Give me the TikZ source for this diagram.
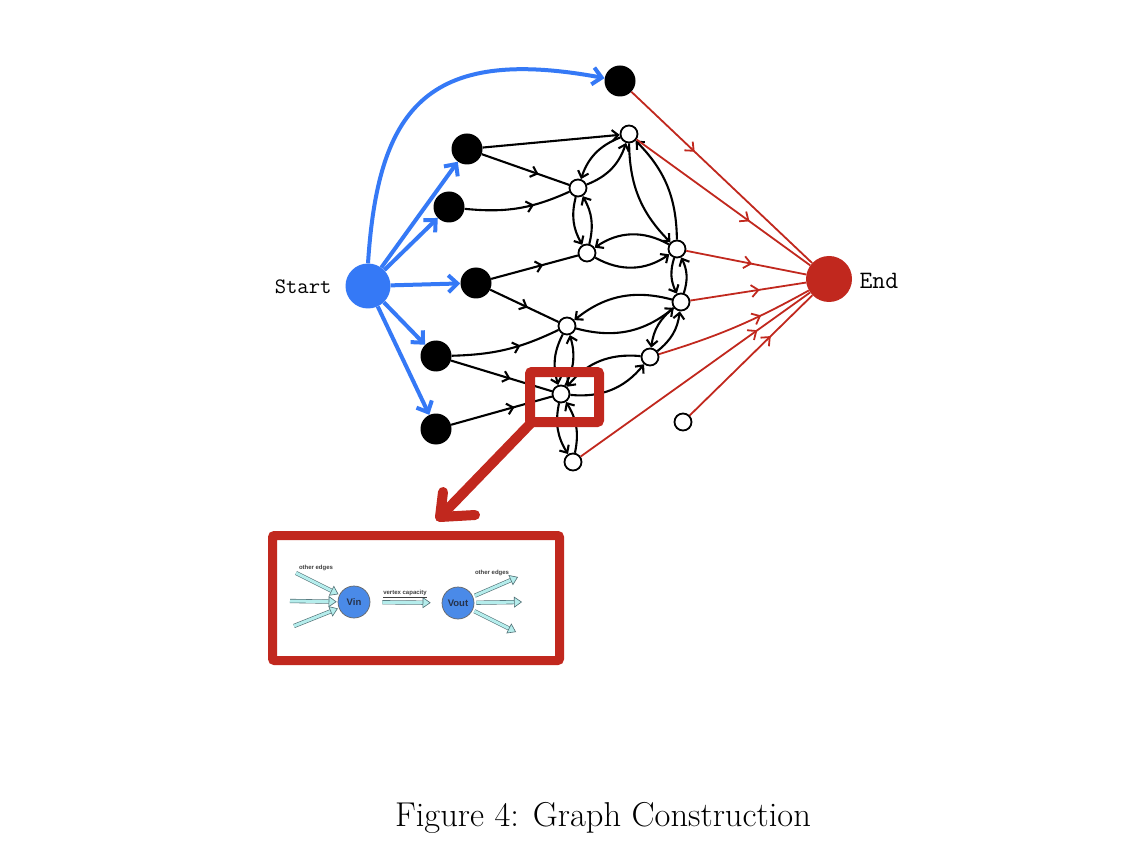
\documentclass[tikz,border=0pt]{standalone}
\usepackage{fontspec}
\newfontfamily\insetfont{Liberation Sans}
\usetikzlibrary{arrows.meta,decorations.markings}
\definecolor{myblue}{HTML}{3579F6}
\definecolor{myred}{HTML}{C1281E}
\definecolor{vblue}{HTML}{4A8AE8}
\definecolor{vtext}{HTML}{26324A}
\definecolor{cyanf}{HTML}{B5EDEC}
\definecolor{cyand}{HTML}{4F6E73}
\tikzset{
  blk/.style={circle, fill=black, inner sep=0pt, minimum size=31pt},
  wht/.style={circle, draw=black, fill=white, line width=1.8pt, inner sep=0pt, minimum size=17pt},
  bedge/.style={line width=2.1pt, color=black},
  barb/.style={-{Straight Barb[length=6pt,width=11pt]}},
  midarr/.style={postaction={decorate}, decoration={markings, mark=at position #1 with {\arrow{Straight Barb[length=6pt,width=11pt]}}}},
  redmid/.style={postaction={decorate}, decoration={markings, mark=at position #1 with {\arrow{Straight Barb[length=7pt,width=12pt]}}}},
  redge/.style={line width=1.8pt, color=myred},
  bluee/.style={line width=4pt, color=myblue, -{Straight Barb[length=9pt,width=17pt]}},
  hollow/.style={draw=cyand, line width=0.6pt, double=cyanf, double distance=3pt, -{Triangle[open,length=8pt,width=11pt,fill=cyanf]}},
  vert/.style={circle, fill=vblue, draw=gray!80!black, line width=0.7pt, inner sep=0pt, minimum size=32pt, font=\insetfont\bfseries\fontsize{9.5}{10}\selectfont, text=vtext},
  tiny/.style={font=\insetfont\bfseries\fontsize{6}{7}\selectfont, text=gray!50!black, inner sep=0pt}
}
\begin{document}
\begin{tikzpicture}[x=1pt,y=1pt]
\useasboundingbox (0,0) rectangle (1140,-866);
\fill[white] (0,0) rectangle (1140,-866);

% main nodes
\node[circle, fill=myblue, inner sep=0pt, minimum size=45pt] (S) at (368,-286) {};
\node[circle, fill=myred, inner sep=0pt, minimum size=46pt] (E) at (829,-279) {};
\node[anchor=east, font=\ttfamily\fontsize{22}{26}\selectfont] (SL) at (335,-287) {Start};
\node[anchor=west, font=\ttfamily\fontsize{25}{30}\selectfont] (EL) at (856,-281) {End};

\node[blk] (B0) at (620,-81) {};
\node[blk] (B1) at (467,-149) {};
\node[blk] (B2) at (449,-207) {};
\node[blk] (B3) at (476,-283) {};
\node[blk] (B4) at (436,-356) {};
\node[blk] (B5) at (436,-429) {};

\node[wht] (W1) at (629,-134) {};
\node[wht] (W2) at (578,-188) {};
\node[wht] (W3) at (587,-253) {};
\node[wht] (W4) at (677,-249) {};
\node[wht] (W5) at (681,-302) {};
\node[wht] (W6) at (567,-326) {};
\node[wht] (W7) at (650,-357) {};
\node[wht] (W8) at (561,-394) {};
\node[wht] (W9) at (573,-462) {};
\node[wht] (W10) at (683,-422) {};

% blue edges
\draw[bluee] (S.north) .. controls (378,-110) and (425,-45) .. (B0);
\draw[bluee] (S) -- (B1);
\draw[bluee] (S) -- (B2);
\draw[bluee] (S) -- (B3);
\draw[bluee] (S) -- (B4);
\draw[bluee] (S) -- (B5);

% black edges from black nodes
\draw[bedge, barb] (B1) -- (W1);
\draw[bedge, midarr=0.65] (B1) -- (W2);
\draw[bedge, midarr=0.65] (B2) to[bend right=15] (W2);
\draw[bedge, midarr=0.6] (B3) -- (W3);
\draw[bedge, midarr=0.55] (B3) -- (W6);
\draw[bedge, midarr=0.63] (B4) to[bend right=12] (W6);
\draw[bedge, midarr=0.59] (B4) -- (W8);
\draw[bedge, midarr=0.63] (B5) -- (W8);

% bidirectional white-white
\foreach \a/\b/\ang in {W1/W2/25, W2/W3/22, W1/W4/22, W3/W4/32, W4/W5/22, W6/W5/27, W5/W7/22, W6/W8/22, W8/W7/28, W8/W9/22}{
  \draw[bedge, barb] (\a) to[bend right=\ang] (\b);
  \draw[bedge, barb] (\b) to[bend right=\ang] (\a);
}

% red edges
\draw[redge, redmid=0.35] (B0) -- (E);
\draw[redge, redmid=0.65] (W1) -- (E);
\draw[redge, redmid=0.55] (W4) -- (E);
\draw[redge, redmid=0.6] (W5) -- (E);
\draw[redge, redmid=0.67] (W7) to[bend right=6] (E);
\draw[redge, redmid=0.77] (W9) -- (E);
\draw[redge, redmid=0.66] (W10) -- (E);

% highlight box and big arrow
\node[draw=myred, line width=10pt, rounded corners=2pt, inner sep=0pt, minimum width=69pt, minimum height=50pt] (HB) at (564.5,-397) {};
\node[draw=myred, line width=9pt, rounded corners=2pt, inner sep=0pt, minimum width=287pt, minimum height=125pt] (IB) at (416,-598) {};
\coordinate (T) at (440,-517);
\draw[myred, line width=10pt, line cap=round, line join=round] ([shift={(6,4)}]HB.south west) -- (T);
\draw[myred, line width=10pt, line cap=round, line join=round] ([shift={(3,25)}]T) -- (T) -- ([shift={(35,2)}]T);

% inset
\node[vert] (Vin) at (354,-602) {Vin};
\node[vert] (Vout) at (458,-603) {Vout};
\coordinate (a1) at (296,-573);
\coordinate (a2) at (290,-601);
\coordinate (a3) at (294,-626);
\coordinate (o1) at (518,-577);
\coordinate (o2) at (522,-602);
\coordinate (o3) at (516,-632);
\draw[hollow, shorten >=1pt] (a1) -- (Vin);
\draw[hollow, shorten >=1pt] (a2) -- (Vin);
\draw[hollow, shorten >=1pt] (a3) -- (Vin);
\draw[hollow, shorten <=12pt, shorten >=11pt] (Vin) -- (Vout);
\draw[hollow, shorten <=2pt] (Vout) -- (o1);
\draw[hollow, shorten <=2pt] (Vout) -- (o2);
\draw[hollow, shorten <=2pt] (Vout) -- (o3);
\node[tiny] (t1) at (316,-568) {other edges};
\node[tiny] (t2) at (492,-573) {other edges};
\node[tiny, anchor=south] (t3) at (405,-598) {\underline{vertex capacity}};

% caption
\node[font=\fontsize{34.5}{40}\selectfont] (cap) at (603,-818) {Figure 4: Graph Construction};
\end{tikzpicture}
\end{document}
